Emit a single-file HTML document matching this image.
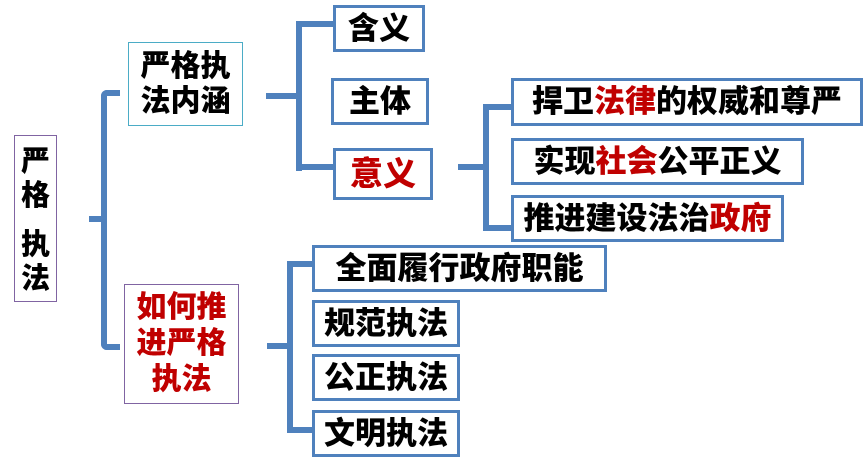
<!DOCTYPE html>
<html><head><meta charset="utf-8"><style>
body{margin:0;width:863px;height:472px;background:#fff;position:relative;overflow:hidden;font-family:"Liberation Sans","Noto Sans CJK SC",sans-serif;font-weight:900}
.b{position:absolute;box-sizing:border-box;border:3px solid #4f81bd;background:#fff;display:flex;align-items:center;justify-content:center;color:#000;white-space:nowrap;line-height:1.2;font-size:31px}
.l{position:absolute;background:#4f81bd}
.r{color:#c00000}
.v{position:absolute;left:14px;width:43px;text-align:center;font-size:29px;line-height:34px;color:#000}
</style></head><body>
<!-- bracket 1 -->
<div class="l" style="left:89px;top:216px;width:18px;height:6px"></div>
<div class="l" style="left:101px;top:90px;width:6px;height:260px;border-radius:6px 0 0 6px"></div>
<div class="l" style="left:101px;top:90px;width:19px;height:6px;border-radius:6px 0 0 0"></div>
<div class="l" style="left:101px;top:344px;width:19px;height:6px;border-radius:0 0 0 6px"></div>
<!-- bracket 2 -->
<div class="l" style="left:266px;top:93px;width:34px;height:6px"></div>
<div class="l" style="left:296px;top:21px;width:6px;height:150px"></div>
<div class="l" style="left:296px;top:21px;width:37px;height:6px"></div>
<div class="l" style="left:296px;top:164px;width:37px;height:6px"></div>
<!-- bracket 3 -->
<div class="l" style="left:458px;top:164px;width:30px;height:6px"></div>
<div class="l" style="left:483px;top:104px;width:6px;height:127px"></div>
<div class="l" style="left:483px;top:104px;width:28px;height:6px"></div>
<div class="l" style="left:483px;top:225px;width:28px;height:6px"></div>
<!-- bracket 4 -->
<div class="l" style="left:267px;top:343px;width:26px;height:6px"></div>
<div class="l" style="left:287px;top:261px;width:6px;height:172px"></div>
<div class="l" style="left:287px;top:261px;width:25px;height:6px"></div>
<div class="l" style="left:287px;top:427px;width:25px;height:6px"></div>

<div style="position:absolute;left:14px;top:135px;width:43px;height:167px;box-sizing:border-box;border:1.5px solid #8064a2"></div>
<div class="v" style="top:145px">严<br>格</div>
<div class="v" style="top:228px">执<br>法</div>
<div class="b" style="left:128px;top:42px;width:115px;height:84px;border:1.5px solid #4bacc6;font-size:30px;line-height:35px;text-align:center">严格执<br>法内涵</div>
<div class="b" style="left:124px;top:284px;width:115px;height:120px;border:1.5px solid #8064a2;font-size:30px;line-height:36px;text-align:center;color:#c00000">如何推<br>进严格<br>执法</div>

<div class="b" style="left:333px;top:5px;width:92px;height:47px">含义</div>
<div class="b" style="left:331px;top:78px;width:98px;height:47px">主体</div>
<div class="b" style="left:333px;top:148px;width:100px;height:52px;font-size:33px;color:#c00000">意义</div>

<div class="b" style="left:511px;top:78px;width:352px;height:48px">捍卫<span class="r">法律</span>的权威和尊严</div>
<div class="b" style="left:511px;top:138px;width:293px;height:47px">实现<span class="r">社会</span>公平正义</div>
<div class="b" style="left:511px;top:195px;width:273px;height:47px">推进建设法治<span class="r">政府</span></div>

<div class="b" style="left:312px;top:245px;width:295px;height:47px">全面履行政府职能</div>
<div class="b" style="left:312px;top:300px;width:148px;height:47px">规范执法</div>
<div class="b" style="left:312px;top:354px;width:148px;height:47px">公正执法</div>
<div class="b" style="left:312px;top:410px;width:148px;height:47px">文明执法</div>
</body></html>
